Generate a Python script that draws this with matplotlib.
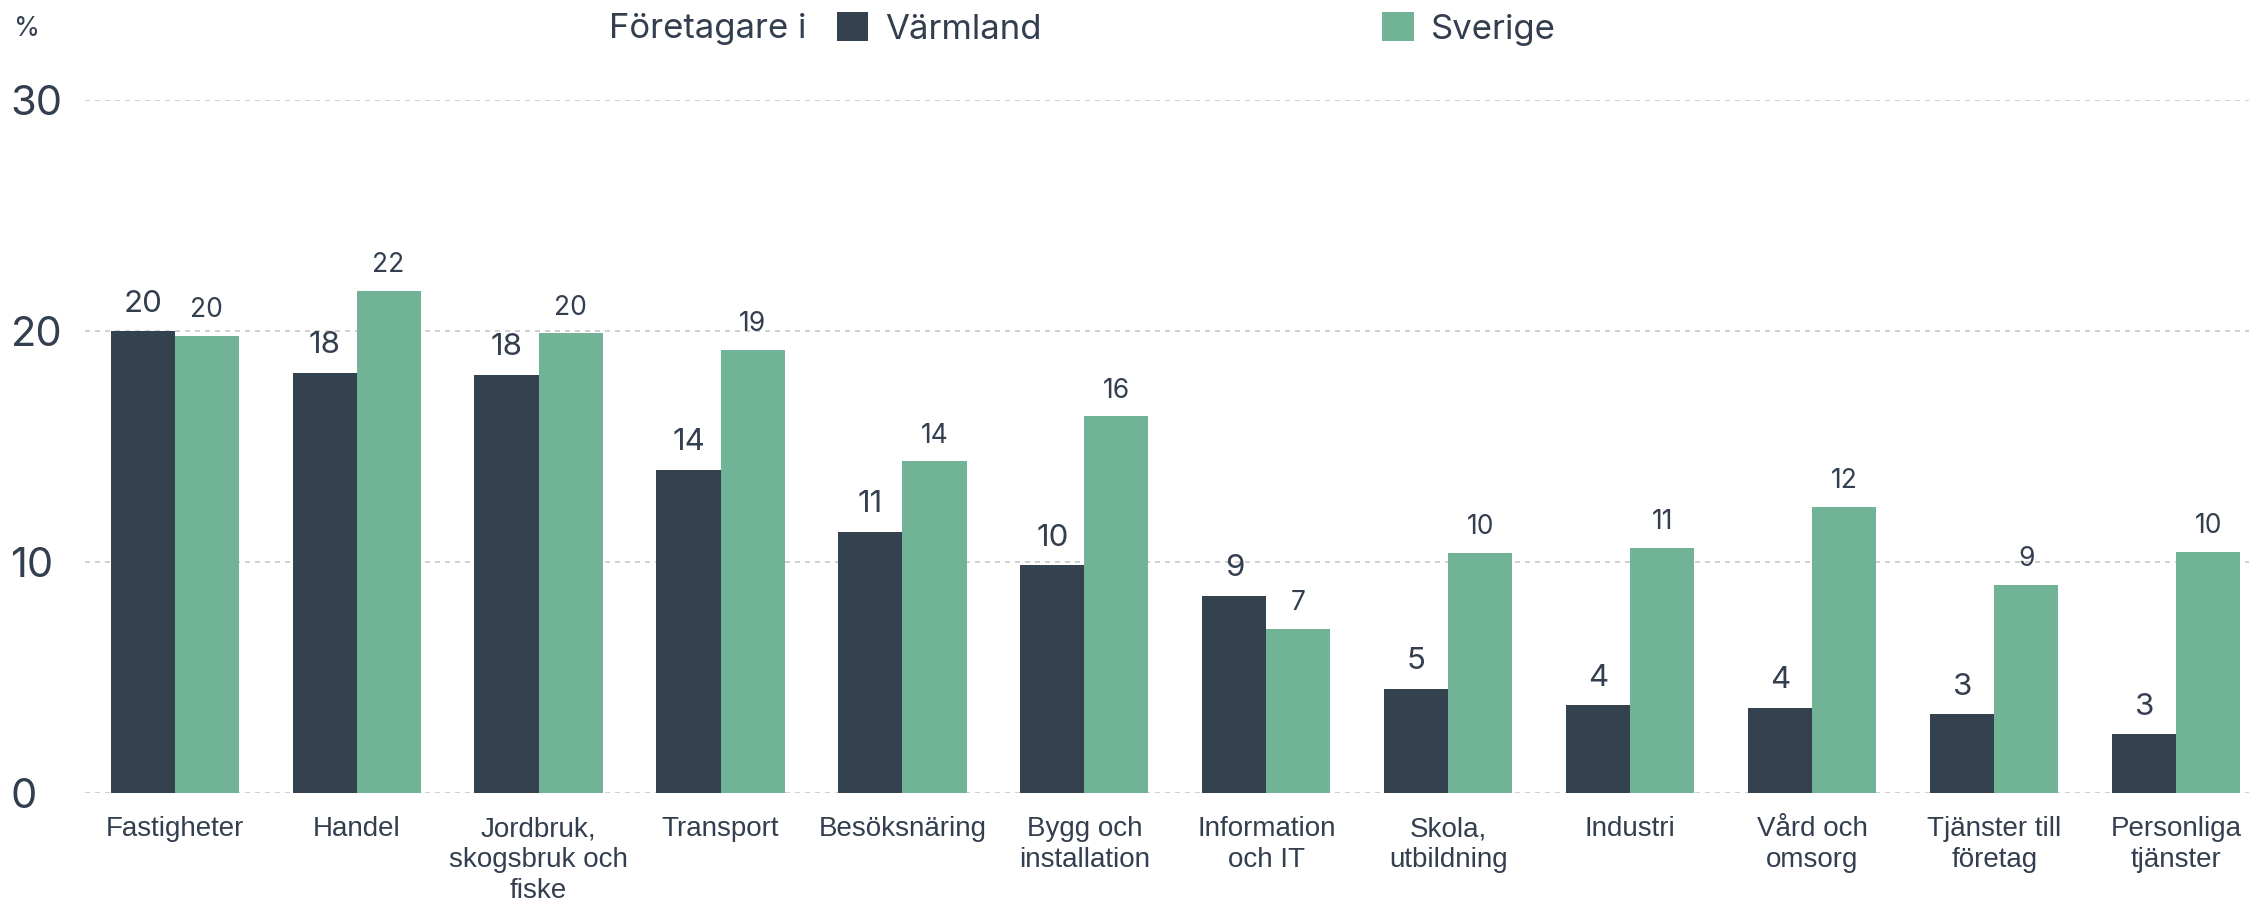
import math
import numpy as np
import matplotlib
matplotlib.use("Agg")
import matplotlib.pyplot as plt

# data (andel företagare per bransch, %)
categories = ["Fastigheter", "Handel", "Jordbruk,\nskogsbruk och\nfiske", "Transport",
              "Besöksnäring", "Bygg och\ninstallation", "Information\noch IT",
              "Skola,\nutbildning", "Industri", "Vård och\nomsorg",
              "Tjänster till\nföretag", "Personliga\ntjänster"]
varmland = [20.0, 18.2, 18.1, 14.0, 11.3, 9.85, 8.53, 4.51, 3.8, 3.68, 3.4, 2.55]
sverige = [19.8, 21.75, 19.9, 19.2, 14.35, 16.3, 7.1, 10.4, 10.6, 12.4, 9.0, 10.45]
yticks = [0, 10, 20, 30]

TEXT = "#333f4f"
C_VARM = "#34414f"
C_SVE = "#70b396"
FONT = ["Inter", "DejaVu Sans"]
LABEL_FONT = ["Liberation Sans", "DejaVu Sans"]

plt.rcParams["font.family"] = FONT

fig = plt.figure(figsize=(22.49, 9.02), dpi=100)
ax = fig.add_axes([0.038, 0.121, 0.962, 0.768])

x = np.arange(len(categories))
w = 0.352
b1 = ax.bar(x - w / 2, varmland, width=w, color=C_VARM, label="Värmland", zorder=3)
b2 = ax.bar(x + w / 2, sverige, width=w, color=C_SVE, label="Sverige", zorder=3)

def rnd(v):
    return str(int(math.floor(v + 0.5)))

for rect, v in zip(b1, varmland):
    ax.annotate(rnd(v), (rect.get_x() + rect.get_width() / 2, v),
                xytext=(0, 14), textcoords="offset points", ha="center",
                va="baseline", fontsize=22.5, color=TEXT)
for rect, v in zip(b2, sverige):
    ax.annotate(rnd(v), (rect.get_x() + rect.get_width() / 2, v),
                xytext=(0, 13.5), textcoords="offset points", ha="center",
                va="baseline", fontsize=19, color=TEXT)

ax.set_xlim(-0.49, 11.40)
ax.set_ylim(0, 30)
ax.set_yticks(yticks)
ax.set_yticklabels([str(t) for t in yticks], fontsize=30, color=TEXT, ha="left")
ax.tick_params(axis="y", length=0, pad=54)
ax.set_xticks(x)
ax.set_xticklabels(categories, fontsize=20, color=TEXT, linespacing=1.25,
                   family=LABEL_FONT)
ax.tick_params(axis="x", length=0, pad=17)

for t in yticks:
    ax.axhline(t, color="#c8c8c8", linestyle=(0, (3, 3)), linewidth=1.2, zorder=1)
for s in ax.spines.values():
    s.set_visible(False)

fig.text(14 / 2249, 1 - 29 / 902, "%", fontsize=19, color=TEXT, va="center", ha="left")
fig.text(609 / 2249, 1 - 29 / 902, "Företagare i", fontsize=25, color=TEXT,
         va="center", ha="left")
fig.legend(handles=[b1, b2], loc="center left", bbox_to_anchor=(837 / 2249, 1 - 29 / 902),
           ncol=2, frameon=False, fontsize=25, borderpad=0, borderaxespad=0,
           handlelength=0.9, handleheight=0.9, handletextpad=0.5, columnspacing=9.8,
           labelcolor=TEXT)

fig.savefig("out.png", dpi=100)
